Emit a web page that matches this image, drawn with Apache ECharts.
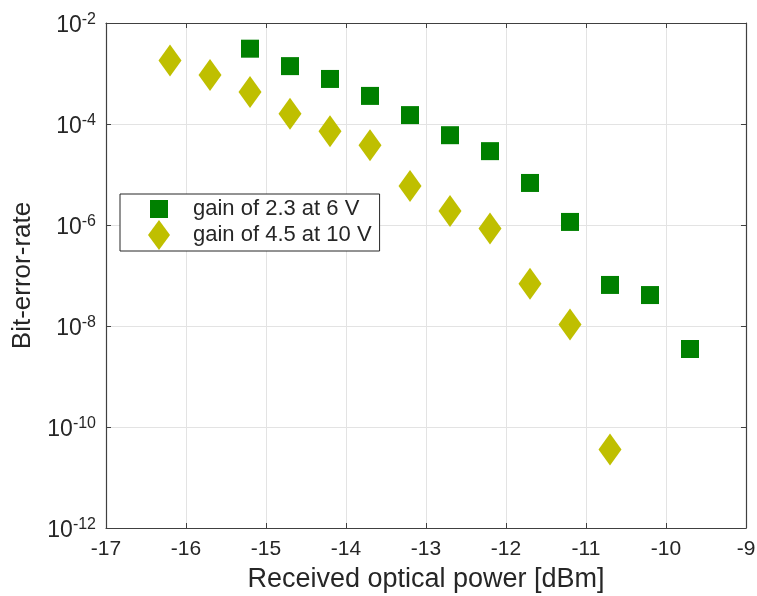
<!DOCTYPE html>
<html>
<head>
<meta charset="utf-8">
<script src="https://cdn.jsdelivr.net/npm/echarts@6/dist/echarts.min.js"></script>
<style>
  html, body { margin: 0; padding: 0; background: #fff; }
  #chart { width: 757px; height: 596px; }
</style>
</head>
<body>
<div id="chart"></div>
<script>
// received optical power [dBm]
var powerGain23 = [-15.2, -14.7, -14.2, -13.7, -13.2, -12.7, -12.2, -11.7, -11.2, -10.7, -10.2, -9.7];
var berGain23 = [3.1e-3, 1.4e-3, 7.8e-4, 3.6e-4, 1.5e-4, 6.0e-5, 2.9e-5, 6.8e-6, 1.15e-6, 6.5e-8, 4.1e-8, 3.5e-9];

var powerGain45 = [-16.2, -15.7, -15.2, -14.7, -14.2, -13.7, -13.2, -12.7, -12.2, -11.7, -11.2, -10.7];
var berGain45 = [1.8e-3, 9.3e-4, 4.3e-4, 1.6e-4, 7.2e-5, 3.8e-5, 5.9e-6, 1.9e-6, 8.5e-7, 6.9e-8, 1.07e-8, 3.6e-11];

var seriesNames = ['gain of 2.3 at 6 V', 'gain of 4.5 at 10 V'];
var xRange = [-17, -9];
var yRange = [1e-12, 1e-2];

var FONT = '"Liberation Sans", Arial, Helvetica, sans-serif';
var TXT = '#262626';
var AXC = '#404040';

function pairs(xs, ys) {
    var out = [];
    for (var i = 0; i < xs.length; i++) out.push([xs[i], ys[i]]);
    return out;
}

var chart = echarts.init(document.getElementById('chart'), null, { renderer: 'canvas' });

var boxAxis = {
    axisLine: { show: true, lineStyle: { color: AXC, width: 1.2 } },
    axisTick: { show: true, inside: true, length: 5, lineStyle: { color: AXC } },
    axisLabel: { show: false },
    splitLine: { show: false }
};

chart.setOption({
    backgroundColor: '#fff',
    animation: false,
    grid: { left: 106, right: 11, top: 23, bottom: 68, outerBoundsMode: 'none', containLabel: false },
    legend: {
        left: 120,
        top: 194,
        orient: 'vertical',
        padding: [0, 8, 1, 28],
        itemGap: -4,
        itemWidth: 22,
        itemHeight: 30,
        backgroundColor: '#fff',
        borderColor: '#262626',
        borderWidth: 1,
        borderRadius: 0,
        textStyle: { fontFamily: FONT, fontSize: 22, color: TXT, padding: [0, 0, 0, 18] },
        data: [
            { name: seriesNames[0], icon: 'path://M0,0M22,30M2,6L20,6L20,24L2,24Z' },
            { name: seriesNames[1], icon: 'path://M11,0L22,15L11,30L0,15Z' }
        ]
    },
    xAxis: [{
        type: 'value',
        min: xRange[0],
        max: xRange[1],
        interval: 1,
        name: 'Received optical power [dBm]',
        nameLocation: 'middle',
        nameGap: 38,
        nameTextStyle: { fontFamily: FONT, fontSize: 27, color: TXT },
        axisLine: { show: true, onZero: false, lineStyle: { color: AXC, width: 1.2 } },
        axisTick: { show: true, inside: true, length: 5, lineStyle: { color: AXC } },
        axisLabel: { fontFamily: FONT, fontSize: 21, color: TXT, margin: 11 },
        splitLine: { show: true, lineStyle: { color: '#e3e3e3', width: 1 } }
    }, Object.assign({
        type: 'value', position: 'top', min: xRange[0], max: xRange[1], interval: 1
    }, boxAxis)],
    yAxis: [{
        type: 'log',
        logBase: 10,
        min: yRange[0],
        max: yRange[1],
        interval: 2,
        name: 'Bit-error-rate',
        nameLocation: 'middle',
        nameGap: 70,
        nameTextStyle: { fontFamily: FONT, fontSize: 26, color: TXT },
        axisLine: { show: true, lineStyle: { color: AXC, width: 1.2 } },
        axisTick: { show: true, inside: true, length: 5, lineStyle: { color: AXC } },
        minorTick: { show: false },
        axisLabel: {
            margin: 10,
            formatter: function (v) {
                var e = Math.round(Math.log10(v));
                return '{b|10}{s|' + e + '}';
            },
            rich: {
                b: { fontFamily: FONT, fontSize: 23, color: TXT, padding: [6, 0, 0, 0] },
                s: { fontFamily: FONT, fontSize: 16, color: TXT, padding: [0, 0, 7, 0] }
            }
        },
        splitLine: { show: true, lineStyle: { color: '#e3e3e3', width: 1 } }
    }, Object.assign({
        type: 'log', logBase: 10, position: 'right', min: yRange[0], max: yRange[1], interval: 2
    }, boxAxis)],
    series: [{
        name: seriesNames[0],
        type: 'scatter',
        symbol: 'rect',
        symbolSize: 18,
        itemStyle: { color: '#008000', opacity: 1 },
        data: pairs(powerGain23, berGain23),
        z: 3
    }, {
        name: seriesNames[1],
        type: 'scatter',
        symbol: 'diamond',
        symbolSize: [23, 32],
        itemStyle: { color: '#bfbf00', opacity: 1 },
        data: pairs(powerGain45, berGain45),
        z: 4
    }]
});
</script>
</body>
</html>
